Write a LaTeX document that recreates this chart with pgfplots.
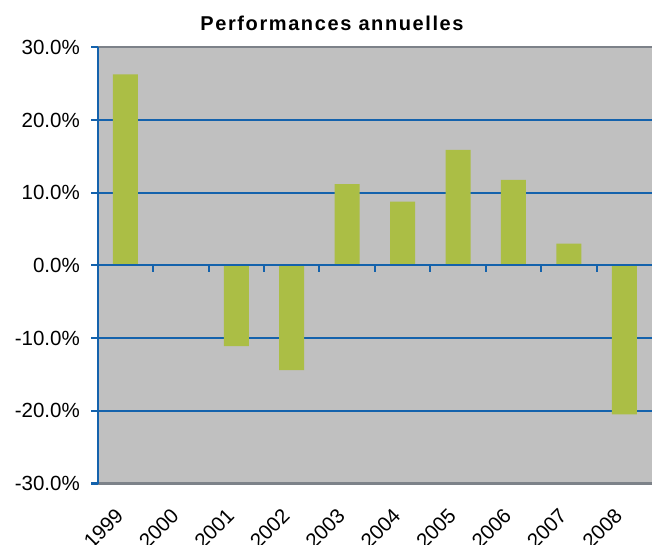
\documentclass[border=0pt]{standalone}
\usepackage{pgfplots}
\pgfplotsset{compat=1.18}
\usepackage{fontspec}
\setmainfont{Liberation Sans}
\newfontfamily\titlefont[LetterSpace=8]{Liberation Sans}
\definecolor{bg}{RGB}{192,192,192}
\definecolor{barcol}{RGB}{171,190,69}
\definecolor{blueline}{RGB}{20,98,172}
\definecolor{grayline}{RGB}{125,130,137}
\begin{document}
\begin{tikzpicture}
\useasboundingbox (0,0) rectangle (652bp,545bp);
\node[anchor=base, inner sep=0pt] at (332bp,514bp) {\titlefont\bfseries\fontsize{20bp}{24bp}\selectfont Performances annuelles};
\begin{axis}[
  at={(97.7bp,61.5bp)}, anchor=south west,
  scale only axis, width=554.3bp, height=436bp,
  xmin=-0.5, xmax=9.5, ymin=-30, ymax=30,
  clip=false,
  axis background/.style={fill=bg},
  axis line style={draw=none},
  /pgf/number format/assume math mode=true,
  tick label style={font=\fontsize{20.5bp}{24bp}\selectfont},
  xtick={-0.1985,0.8015,1.8015,2.8015,3.8015,4.8015,5.8015,6.8015,7.8015,8.8015},
  xticklabels={1999,2000,2001,2002,2003,2004,2005,2006,2007,2008},
  xtick style={draw=none},
  xticklabel style={rotate=45, anchor=north east, inner sep=0pt},
  xticklabel shift=23.5bp,
  ytick={-20,-10,0,10,20},
  extra y ticks={-30,30},
  extra y tick style={grid=none},
  ymajorgrids,
  major grid style={draw=blueline, line width=2bp},
  ytick style={draw=none},
  major tick length=0pt,
  yticklabel={\pgfmathprintnumber[fixed,fixed zerofill,precision=1]{\tick}\%},
  yticklabel style={anchor=east, inner sep=0pt},
  yticklabel shift=17.7bp,
  ybar, bar width=25bp,
]
\addplot[ybar, fill=barcol, draw=none] coordinates {
  (0,26.3) (1,0) (2,-11.1) (3,-14.4) (4,11.2) (5,8.8) (6,15.9) (7,11.8) (8,3.0) (9,-20.5)
};
\draw[grayline, line width=2bp] (rel axis cs:0,1) -- (rel axis cs:1,1);
\draw[grayline, line width=2bp] (rel axis cs:0,0) -- (rel axis cs:1,0);
\draw[blueline, line width=2bp] (axis cs:-0.5,0) -- (axis cs:9.5,0);
\pgfplotsinvokeforeach{0.5,1.5,2.5,3.5,4.5,5.5,6.5,7.5,8.5}{
  \draw[blueline, line width=2bp] (axis cs:#1,0) -- ++(0bp,-6.7bp);
}
\pgfplotsinvokeforeach{-30,-20,-10,0,10,20,30}{
  \draw[blueline, line width=2bp] (axis cs:-0.5,#1) -- ++(-7bp,0bp);
}
\draw[blueline, line width=2bp] (rel axis cs:0,0) -- (rel axis cs:0,1);
\end{axis}
\end{tikzpicture}
\end{document}
